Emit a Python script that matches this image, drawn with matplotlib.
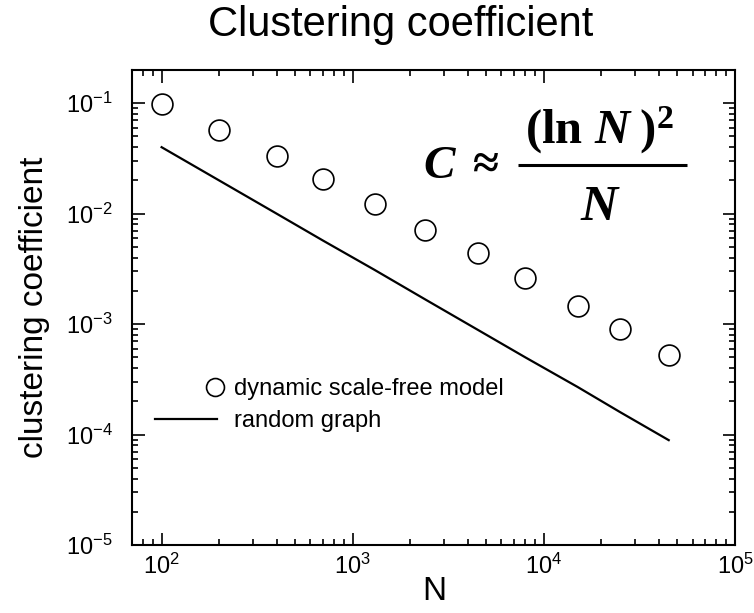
import numpy as np
import matplotlib
matplotlib.use('Agg')
import matplotlib.pyplot as plt
from matplotlib.ticker import LogLocator, NullFormatter, FuncFormatter
from matplotlib.legend_handler import HandlerLine2D
from matplotlib.lines import Line2D

# ---- data ----
N_model = [100, 200, 400, 700, 1300, 2400, 4500, 8000, 15000, 25000, 45000]
C_model = [0.098, 0.057, 0.033, 0.0205, 0.0123, 0.0071, 0.0044, 0.0026, 0.00146, 0.00091, 0.00053]
N_random = [100, 200, 400, 700, 1300, 2400, 4500, 8000, 15000, 25000, 45000]
C_random = [0.04, 0.02, 0.01, 0.0057, 0.0031, 0.00167, 0.00089, 0.0005, 0.00027, 0.00016, 0.000089]
label_model = "dynamic scale-free model"
label_random = "random graph"
title_text = "Clustering coefficient"
xlabel_text = "N"
ylabel_text = "clustering coefficient"
formula_lhs = r'$C\;\approx$'
formula_num = r'$(\ln\,N\;)^{2}$'
formula_den = r'$N$'

plt.rcParams['font.family'] = ['Liberation Sans', 'DejaVu Sans']
plt.rcParams['mathtext.fontset'] = 'custom'
plt.rcParams['mathtext.rm'] = 'Liberation Serif:bold'
plt.rcParams['mathtext.it'] = 'Liberation Serif:italic:bold'
plt.rcParams['mathtext.bf'] = 'Liberation Serif:bold'
plt.rcParams['mathtext.sf'] = 'Liberation Sans'

W, H = 754, 613
AX_L, AX_R, AX_T, AX_B = 132, 735, 70, 545

fig = plt.figure(figsize=(W / 100, H / 100), dpi=100)
ax = fig.add_axes([AX_L / W, 1 - AX_B / H, (AX_R - AX_L) / W, (AX_B - AX_T) / H])


def axfrac(px, py):
    """pixel position in the figure -> axes fraction (for annotations)"""
    return (px - AX_L) / (AX_R - AX_L), (AX_B - py) / (AX_B - AX_T)


model_line, = ax.plot(N_model, C_model, linestyle='none', marker='o', markersize=15,
                      markerfacecolor='white', markeredgecolor='black', markeredgewidth=1.2,
                      label=label_model, zorder=3)
ax.plot(N_random, C_random, color='black', linewidth=1.6, label=label_random)

ax.set_xscale('log')
ax.set_yscale('log')
ax.set_xlim(70, 1e5)
ax.set_ylim(1e-5, 0.2)

fmt = FuncFormatter(lambda v, pos: r'$\mathregular{10^{%d}}$' % int(round(np.log10(v))))
for axis in (ax.xaxis, ax.yaxis):
    axis.set_major_locator(LogLocator(base=10, numticks=20))
    axis.set_minor_locator(LogLocator(base=10, subs=np.arange(2, 10), numticks=20))
    axis.set_major_formatter(fmt)
    axis.set_minor_formatter(NullFormatter())

ax.tick_params(which='both', direction='in', top=True, right=True, width=1.2, labelsize=17)
ax.tick_params(which='major', length=9)
ax.tick_params(which='minor', length=4.5)
ax.tick_params(axis='x', pad=6)
ax.tick_params(axis='y', pad=14)
for sp in ax.spines.values():
    sp.set_linewidth(1.5)


class RightMarkerHandler(HandlerLine2D):
    """Single marker drawn at the right end of the legend handle."""
    def get_xdata(self, legend, xdescent, ydescent, width, height, fontsize):
        r = -xdescent + width - 1.0
        return np.array([r, r]), np.array([r])


leg = ax.legend(loc='center left', bbox_to_anchor=(0.038, 0.294), frameon=False,
                fontsize=17, handlelength=2.62, handletextpad=0.72, labelspacing=0.42,
                borderpad=0, borderaxespad=0, markerscale=0.86,
                handler_map={model_line: RightMarkerHandler(numpoints=1)})

# formula  C ~ (ln N)^2 / N
x, y = axfrac(423, 178)
ax.text(x, y, formula_lhs, transform=ax.transAxes, fontsize=34, ha='left', va='baseline')
x, y = axfrac(600, 144)
ax.text(x, y, formula_num, transform=ax.transAxes, fontsize=35, ha='center', va='baseline')
x, y = axfrac(601, 220)
ax.text(x, y, formula_den, transform=ax.transAxes, fontsize=37, ha='center', va='baseline')
x0, yb = axfrac(518, 164.5)
x1, _ = axfrac(687, 164.5)
ax.add_line(Line2D([x0, x1], [yb, yb], transform=ax.transAxes, color='black',
                   linewidth=2.2, solid_capstyle='butt', clip_on=False))

fig.text(401 / W, 1 - 36 / H, title_text, fontsize=30, ha='center', va='baseline')
ax.set_xlabel(xlabel_text, fontsize=24)
ax.xaxis.set_label_coords(0.501, -0.066)
ax.set_ylabel(ylabel_text, fontsize=24)
ax.yaxis.set_label_coords(-0.136, 0.5)

fig.savefig('out.png', dpi=100)
